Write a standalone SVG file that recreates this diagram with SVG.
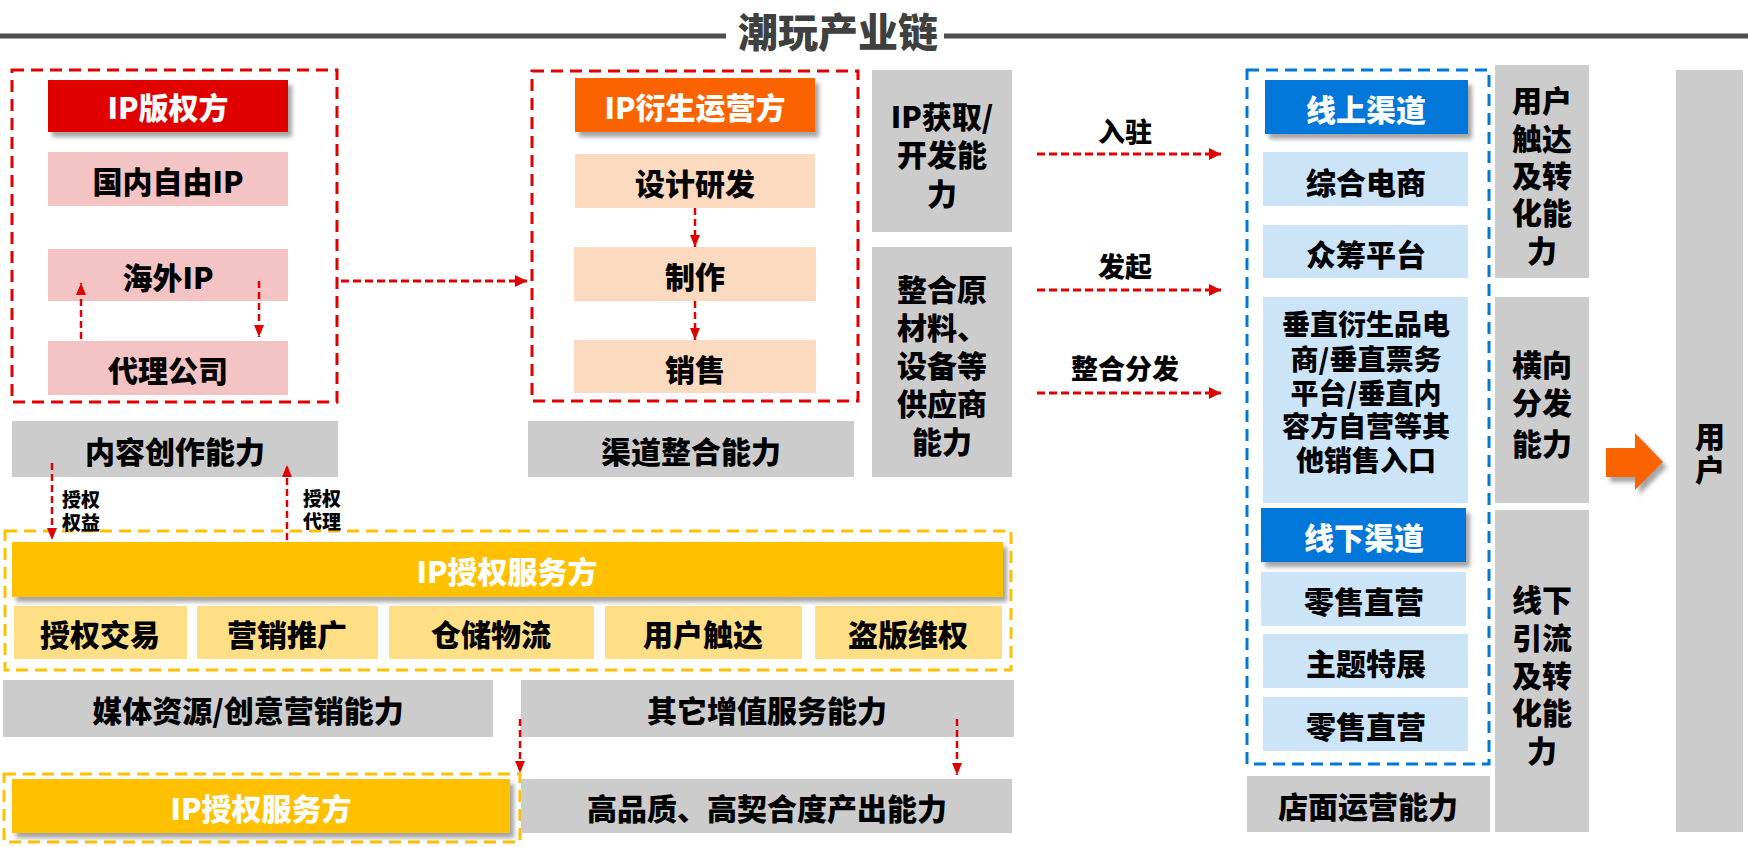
<svg xmlns="http://www.w3.org/2000/svg" width="1748" height="847" viewBox="0 0 1748 847">
<defs>
<filter id="sh" x="-10%" y="-20%" width="130%" height="160%">
<feDropShadow dx="4" dy="5" stdDeviation="2" flood-color="#7f7f7f" flood-opacity="0.7"/>
</filter>
<marker id="ah" viewBox="0 0 12 10" refX="12" refY="5" markerWidth="12" markerHeight="10" markerUnits="userSpaceOnUse" orient="auto">
<path d="M0,0 L12,5 L0,10 Z" fill="#E00000"/>
</marker>
<marker id="ah2" viewBox="0 0 12 12" refX="12" refY="6" markerWidth="12" markerHeight="12" markerUnits="userSpaceOnUse" orient="auto">
<path d="M0,0 L12,6 L0,12 Z" fill="#E00000"/>
</marker>
</defs>
<style>
text{font-family:"Noto Sans CJK SC","Noto Sans",sans-serif;font-weight:900;text-anchor:middle;dominant-baseline:central;fill:#000}
tspan{dominant-baseline:central}
.w{fill:#fff}
.t{font-size:30px}
.s{font-size:19px}
.m{font-size:27px}
.gray{fill:#CCCCCC}
.pink{fill:#F4C3C3}
.peach{fill:#FCDAC0}
.lb{fill:#CCE4F7}
.ly{fill:#FFDF85}
.box{fill:none;stroke-width:3;stroke-dasharray:12 7}
.conn{fill:none;stroke:#E00000;stroke-width:2.5;stroke-dasharray:7 4}
.connh{fill:none;stroke:#E00000;stroke-width:3;stroke-dasharray:8 4}
</style>
<rect width="1748" height="847" fill="#fff"/>

<g id="title">
<line x1="0" y1="36" x2="726" y2="36" stroke="#4D4D4D" stroke-width="5"/>
<line x1="944" y1="36" x2="1748" y2="36" stroke="#4D4D4D" stroke-width="5"/>
<text x="838" y="30" style="font-size:40px;fill:#404040">潮玩产业链</text>
</g>

<g id="ip-owner">
<rect class="box" x="12" y="70" width="325" height="332" stroke="#E00000"/>
<rect x="48" y="80" width="240" height="52" fill="#E00000" filter="url(#sh)"/>
<text class="t w" x="168" y="106">IP版权方</text>
<rect class="pink" x="48" y="152" width="240" height="54"/>
<text class="t" x="168" y="180">国内自由IP</text>
<rect class="pink" x="48" y="249" width="240" height="52"/>
<text class="t" x="168" y="276">海外IP</text>
<rect class="pink" x="48" y="341" width="240" height="54"/>
<text class="t" x="168" y="369">代理公司</text>
</g>

<g id="ip-derivative">
<rect class="box" x="532" y="71" width="326" height="330" stroke="#E00000"/>
<rect x="575" y="78" width="240" height="54" fill="#FA6400" filter="url(#sh)"/>
<text class="t w" x="695" y="106">IP衍生运营方</text>
<rect class="peach" x="575" y="154" width="240" height="54"/>
<text class="t" x="695" y="182">设计研发</text>
<rect class="peach" x="574" y="247" width="242" height="54"/>
<text class="t" x="695" y="275">制作</text>
<rect class="peach" x="574" y="340" width="242" height="53"/>
<text class="t" x="695" y="368">销售</text>
</g>

<g id="cap-ip">
<rect class="gray" x="872" y="70" width="140" height="162"/>
<text class="t"><tspan x="942" y="115">IP获取/</tspan><tspan x="942" y="153">开发能</tspan><tspan x="942" y="192">力</tspan></text>
</g>

<g id="cap-supply">
<rect class="gray" x="872" y="247" width="140" height="230"/>
<text class="t"><tspan x="942" y="288">整合原</tspan><tspan x="942" y="326">材料、</tspan><tspan x="942" y="364">设备等</tspan><tspan x="942" y="402">供应商</tspan><tspan x="942" y="440">能力</tspan></text>
</g>

<g id="channels">
<rect class="box" x="1247" y="70" width="242" height="694" stroke="#0078D7"/>
<rect x="1265" y="80" width="203" height="54" fill="#0077D9" filter="url(#sh)"/>
<text class="t w" x="1366" y="108">线上渠道</text>
<rect class="lb" x="1263" y="152" width="205" height="54"/>
<text class="t" x="1366" y="181">综合电商</text>
<rect class="lb" x="1263" y="225" width="205" height="53"/>
<text class="t" x="1366" y="253">众筹平台</text>
<rect class="lb" x="1263" y="297" width="205" height="206"/>
<text class="t" style="font-size:28px"><tspan x="1366" y="323">垂直衍生品电</tspan><tspan x="1366" y="358">商/垂直票务</tspan><tspan x="1366" y="392">平台/垂直内</tspan><tspan x="1366" y="425">容方自营等其</tspan><tspan x="1366" y="459">他销售入口</tspan></text>
<rect x="1261" y="508" width="205" height="54" fill="#0077D9" filter="url(#sh)"/>
<text class="t w" x="1364" y="536">线下渠道</text>
<rect class="lb" x="1261" y="572" width="205" height="54"/>
<text class="t" x="1364" y="600">零售直营</text>
<rect class="lb" x="1263" y="634" width="205" height="54"/>
<text class="t" x="1366" y="662">主题特展</text>
<rect class="lb" x="1263" y="697" width="205" height="54"/>
<text class="t" x="1366" y="725">零售直营</text>
</g>

<g id="cap-store">
<rect class="gray" x="1247" y="776" width="243" height="56"/>
<text class="t" x="1368" y="805">店面运营能力</text>
</g>

<g id="cap-reach">
<rect class="gray" x="1495" y="65" width="94" height="213"/>
<text class="t"><tspan x="1542" y="99">用户</tspan><tspan x="1542" y="137">触达</tspan><tspan x="1542" y="174">及转</tspan><tspan x="1542" y="211">化能</tspan><tspan x="1542" y="249">力</tspan></text>
</g>

<g id="cap-horizontal">
<rect class="gray" x="1495" y="297" width="94" height="206"/>
<text class="t"><tspan x="1542" y="363">横向</tspan><tspan x="1542" y="401">分发</tspan><tspan x="1542" y="442">能力</tspan></text>
</g>

<g id="cap-offline">
<rect class="gray" x="1495" y="510" width="94" height="322"/>
<text class="t"><tspan x="1542" y="598">线下</tspan><tspan x="1542" y="636">引流</tspan><tspan x="1542" y="674">及转</tspan><tspan x="1542" y="711">化能</tspan><tspan x="1542" y="749">力</tspan></text>
</g>

<g id="big-arrow">
<polygon points="1606,448 1635,448 1635,433 1663,462 1635,490 1635,477 1606,477" fill="#FA6400" filter="url(#sh)"/>
</g>

<g id="user">
<rect class="gray" x="1676" y="70" width="67" height="762"/>
<text class="t"><tspan x="1710" y="435">用</tspan><tspan x="1710" y="468">户</tspan></text>
</g>

<g id="cap-content">
<rect class="gray" x="12" y="421" width="326" height="56"/>
<text class="t" x="175" y="450">内容创作能力</text>
</g>

<g id="cap-channel">
<rect class="gray" x="528" y="421" width="326" height="56"/>
<text class="t" x="691" y="450">渠道整合能力</text>
</g>

<g id="ip-license">
<rect class="box" x="5" y="531" width="1006" height="139" stroke="#FFC000"/>
<rect x="12" y="542" width="991" height="55" fill="#FFC000" filter="url(#sh)"/>
<text class="t w" x="507" y="570">IP授权服务方</text>
<rect class="ly" x="14" y="606" width="173" height="53"/>
<text class="t" x="100" y="633">授权交易</text>
<rect class="ly" x="197" y="606" width="181" height="53"/>
<text class="t" x="287" y="633">营销推广</text>
<rect class="ly" x="389" y="606" width="205" height="53"/>
<text class="t" x="491" y="633">仓储物流</text>
<rect class="ly" x="605" y="606" width="197" height="53"/>
<text class="t" x="703" y="633">用户触达</text>
<rect class="ly" x="815" y="606" width="187" height="53"/>
<text class="t" x="908" y="633">盗版维权</text>
</g>

<g id="cap-media">
<rect class="gray" x="3" y="680" width="490" height="57"/>
<text class="t" x="248" y="709">媒体资源/创意营销能力</text>
</g>

<g id="cap-value">
<rect class="gray" x="521" y="680" width="493" height="57"/>
<text class="t" x="767" y="709">其它增值服务能力</text>
</g>

<g id="ip-license-2">
<rect class="box" x="4" y="774" width="516" height="68" stroke="#FFC000"/>
<rect x="12" y="779" width="498" height="54" fill="#FFC000" filter="url(#sh)"/>
<text class="t w" x="261" y="807">IP授权服务方</text>
</g>

<g id="cap-quality">
<rect class="gray" x="521" y="779" width="491" height="54"/>
<text class="t" x="767" y="807">高品质、高契合度产出能力</text>
</g>

<g id="connectors">
<line class="conn" x1="81" y1="339" x2="81" y2="283" marker-end="url(#ah)"/>
<line class="conn" x1="259" y1="281" x2="259" y2="337" marker-end="url(#ah)"/>
<line class="connh" x1="341" y1="281" x2="527" y2="281" marker-end="url(#ah2)"/>
<line class="conn" x1="695" y1="208" x2="695" y2="247" marker-end="url(#ah)"/>
<line class="conn" x1="695" y1="301" x2="695" y2="340" marker-end="url(#ah)"/>
<line class="connh" x1="1037" y1="154" x2="1221" y2="154" marker-end="url(#ah2)"/>
<line class="connh" x1="1037" y1="290" x2="1221" y2="290" marker-end="url(#ah2)"/>
<line class="connh" x1="1037" y1="393" x2="1221" y2="393" marker-end="url(#ah2)"/>
<line class="conn" x1="52" y1="463" x2="52" y2="540" marker-end="url(#ah)"/>
<line class="conn" x1="287" y1="540" x2="287" y2="465" marker-end="url(#ah)"/>
<line class="conn" x1="520" y1="719" x2="520" y2="773" marker-end="url(#ah)"/>
<line class="conn" x1="957" y1="719" x2="957" y2="775" marker-end="url(#ah)"/>
<text class="m" x="1125" y="130">入驻</text>
<text class="m" x="1125" y="265">发起</text>
<text class="m" x="1125" y="367">整合分发</text>
<text class="s"><tspan x="81" y="498">授权</tspan><tspan x="81" y="521">权益</tspan></text>
<text class="s"><tspan x="322" y="497">授权</tspan><tspan x="322" y="520">代理</tspan></text>
</g>
</svg>
